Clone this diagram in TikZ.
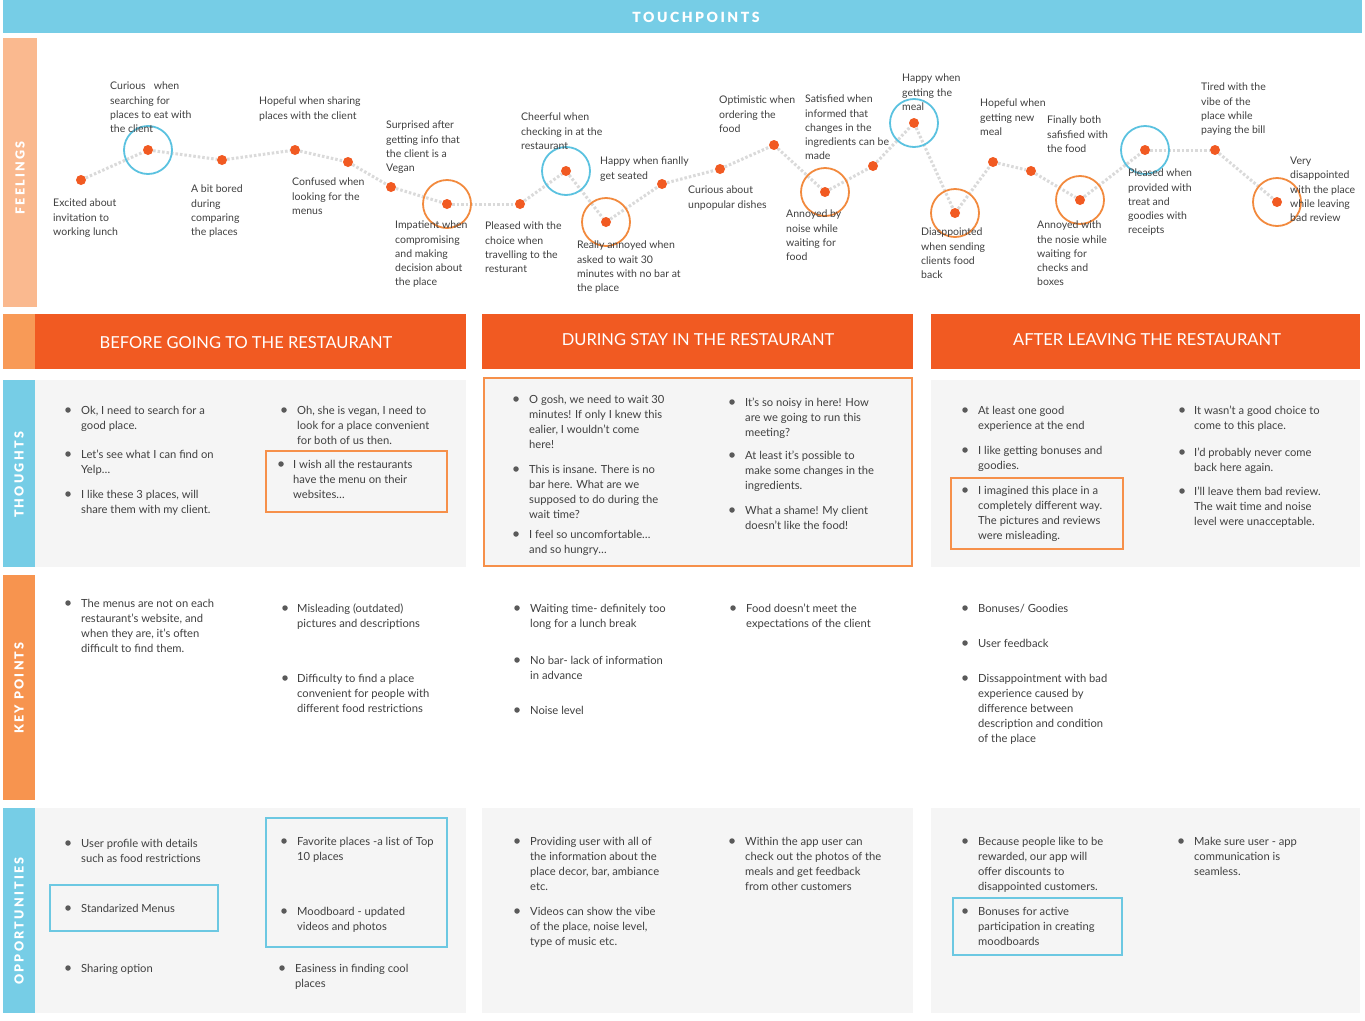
\documentclass[tikz,border=0pt]{standalone}
\usepackage{fontspec}
\setmainfont{Lato}
\newfontfamily\spacedfont[LetterSpace=18, UprightFont={Lato Black}]{Lato}

\definecolor{sky}{HTML}{76CDE6}
\definecolor{peach}{HTML}{FAB98F}
\definecolor{tang}{HTML}{F15A22}
\definecolor{tanglight}{HTML}{F89A57}
\definecolor{kporange}{HTML}{F7944F}
\definecolor{panelgray}{HTML}{F5F5F5}
\definecolor{boxorange}{HTML}{F6904A}
\definecolor{boxblue}{HTML}{6CC8E2}
\definecolor{ink}{HTML}{404040}
\definecolor{trail}{HTML}{DADADA}
\definecolor{ringblue}{HTML}{5BC2E0}
\definecolor{ringorange}{HTML}{F28A3E}
\definecolor{bulletgray}{HTML}{5A5A5A}

% bullet item: name, bullet x, text x, first-line centre y, text
\newcommand\pitem[5]{%
  \node[bul] (#1b) at (#2,#4) {};
  \node[blab] (#1) at (#3,#4-4) {#5};}
% feeling label: name, left x, first-line centre y, text
\newcommand\feel[4]{\node[flab] (#1) at (#2,#3-4) {#4};}

\begin{document}
\begin{tikzpicture}[x=1pt,y=-1pt,
  dot/.style={circle, fill=tang, inner sep=0, minimum size=10pt},
  bluering/.style={circle, draw=ringblue, line width=1.8pt, minimum size=48pt, inner sep=0},
  orangering/.style={circle, draw=ringorange, line width=1.8pt, minimum size=48pt, inner sep=0},
  trailline/.style={draw=trail, line width=3pt, dash pattern=on 2.5pt off 2pt},
  flab/.style={anchor=north west, inner sep=0, align=left, text=ink,
    font=\fontsize{10.5}{14.2}\selectfont},
  blab/.style={anchor=north west, inner sep=0, align=left, text=ink,
    font=\fontsize{11.2}{15}\selectfont},
  bul/.style={circle, fill=bulletgray, inner sep=0, minimum size=5.5pt},
  hdrtext/.style={text=white, inner sep=0, font=\fontsize{16.5}{19}\selectfont},
  sidetext/.style={text=white, inner sep=0, rotate=90, font=\spacedfont\fontsize{12.5}{14}\selectfont},
  obox/.style={draw=boxorange, line width=1.8pt},
  bbox/.style={draw=boxblue, line width=1.8pt}]
\useasboundingbox (0,0) rectangle (1365,1020);
\fill[white] (0,0) rectangle (1365,1020);

% ---- banner and row strips
\fill[sky] (3,0) rectangle (1362,33);
\node[text=white, inner sep=0, font=\spacedfont\fontsize{14}{16}\selectfont] (tp) at (696,17) {TOUCHPOINTS};

\fill[peach] (3,38) rectangle (37,307);
\fill[tanglight] (3,314) rectangle (35,369);
\fill[sky] (3,380) rectangle (35,567);
\fill[kporange] (3,575) rectangle (35,800);
\fill[sky] (3,808) rectangle (35,1013);
\node[sidetext] (sf) at (20,178) {FEELINGS};
\node[sidetext] (st) at (19,475) {THOUGHTS};
\node[sidetext] (sk) at (19,688) {KEY POINTS};
\node[sidetext] (so) at (19,921) {OPPORTUNITIES};

% ---- phase headers
\fill[tang] (35,314) rectangle (466,369);
\fill[tang] (482,314) rectangle (913,369);
\fill[tang] (931,314) rectangle (1360,369);
\node[hdrtext] (h1) at (246,343) {BEFORE GOING TO THE RESTAURANT};
\node[hdrtext] (h2) at (698,340) {DURING STAY IN THE RESTAURANT};
\node[hdrtext] (h3) at (1147,340) {AFTER LEAVING THE RESTAURANT};

% ---- panels
\fill[panelgray] (35,380) rectangle (466,567);
\fill[panelgray] (931,380) rectangle (1360,567);
\filldraw[fill=panelgray, obox] (484,378) rectangle (912,566);
\fill[panelgray] (35,808) rectangle (466,1013);
\fill[panelgray] (482,808) rectangle (913,1013);
\fill[panelgray] (931,808) rectangle (1360,1013);

% ---- feelings curve
\node[dot] (f1) at (81,180) {};
\node[dot] (f2) at (148,150) {};
\node[dot] (f3) at (222,160) {};
\node[dot] (f4) at (295,150) {};
\node[dot] (f5) at (348,162) {};
\node[dot] (f6) at (391,187) {};
\node[dot] (f7) at (447,204) {};
\node[dot] (f8) at (520,204) {};
\node[dot] (f9) at (566,171) {};
\node[dot] (f10) at (606,222) {};
\node[dot] (f11) at (662,184) {};
\node[dot] (f12) at (720,169) {};
\node[dot] (f13) at (774,145) {};
\node[dot] (f14) at (825,192) {};
\node[dot] (f15) at (873,166) {};
\node[dot] (f16) at (914,123) {};
\node[dot] (f17) at (955,213) {};
\node[dot] (f18) at (993,162) {};
\node[dot] (f19) at (1031,171) {};
\node[dot] (f20) at (1080,200) {};
\node[dot] (f21) at (1145,150) {};
\node[dot] (f22) at (1215,150) {};
\node[dot] (f23) at (1277,202) {};
\foreach \a/\b in {1/2,2/3,3/4,4/5,5/6,6/7,7/8,8/9,9/10,10/11,11/12,12/13,13/14,14/15,15/16,16/17,17/18,18/19,19/20,20/21,21/22,22/23}
  \draw[trailline] (f\a) -- (f\b);
\foreach \p in {2,9,16,21} \node[bluering] (r\p) at (f\p) {};
\foreach \p in {7,10,14,17,20,23} \node[orangering] (r\p) at (f\p) {};

\feel{l1}{53}{203}{Excited about\\invitation to\\working lunch}
\feel{l2}{110}{86}{Curious \ \ when\\searching for\\places to eat with\\the client}
\feel{l3}{191}{189}{A bit bored\\during\\comparing\\the places}
\feel{l4}{259}{101}{Hopeful when sharing\\places with the client}
\feel{l5}{292}{182}{Confused when\\looking for the\\menus}
\feel{l6}{386}{125}{Surprised after\\getting info that\\the client is a\\Vegan}
\feel{l7}{395}{225}{Impatient when\\compromising\\and making\\decision about\\the place}
\feel{l8}{485}{226}{Pleased with the\\choice when\\travelling to the\\resturant}
\feel{l9}{521}{117}{Cheerful when\\checking in at the\\restaurant}
\feel{l10}{577}{245}{Really annoyed when\\asked to wait 30\\minutes with no bar at\\the place}
\feel{l11}{600}{161}{Happy when fianlly\\get seated}
\feel{l12}{688}{190}{Curious about\\unpopular dishes}
\feel{l13}{719}{100}{Optimistic when\\ordering the\\food}
\feel{l14}{786}{214}{Annoyed by\\noise while\\waiting for\\food}
\feel{l15}{805}{99}{Satisfied when\\informed that\\changes in the\\ingredients can be\\made}
\feel{l16}{902}{78}{Happy when\\getting the\\meal}
\feel{l17}{921}{232}{Diasppointed\\when sending\\clients food\\back}
\feel{l18}{980}{103}{Hopeful when\\getting new\\meal}
\feel{l19}{1047}{120}{Finally both\\safisfied with\\the food}
\feel{l20}{1037}{225}{Annoyed with\\the nosie while\\waiting for\\checks and\\boxes}
\feel{l21}{1128}{173}{Pleased when\\provided with\\treat and\\goodies with\\receipts}
\feel{l22}{1201}{87}{Tired with the\\vibe of the\\place while\\paying the bill}
\feel{l23}{1290}{161}{Very\\disappointed\\with the place\\while leaving\\bad review}

% ---- thoughts
\pitem{ta1}{68}{81}{410}{Ok, I need to search for a\\good place.}
\pitem{ta2}{68}{81}{454}{Let’s see what I can find on\\Yelp…}
\pitem{ta3}{68}{81}{494}{I like these 3 places, will\\share them with my client.}
\pitem{ta4}{284}{297}{410}{Oh, she is vegan, I need to\\look for a place convenient\\for both of us then.}
\draw[obox] (266,451) rectangle (447,512);
\pitem{ta5}{281}{293}{464}{I wish all the restaurants\\have the menu on their\\websites…}

\pitem{tb1}{516}{529}{399}{O gosh, we need to wait 30\\minutes! If only I knew this\\ealier, I wouldn’t come\\here!}
\pitem{tb2}{516}{529}{469}{This is insane. There is no\\bar here. What are we\\supposed to do during the\\wait time?}
\pitem{tb3}{516}{529}{534}{I feel so uncomfortable…\\and so hungry…}
\pitem{tb4}{732}{745}{402}{It’s so noisy in here! How\\are we going to run this\\meeting?}
\pitem{tb5}{732}{745}{455}{At least it’s possible to\\make some changes in the\\ingredients.}
\pitem{tb6}{732}{745}{510}{What a shame! My client\\doesn’t like the food!}

\pitem{tc1}{965}{978}{410}{At least one good\\experience at the end}
\pitem{tc2}{965}{978}{450}{I like getting bonuses and\\goodies.}
\draw[obox] (951,478) rectangle (1123,549);
\pitem{tc3}{965}{978}{490}{I imagined this place in a\\completely different way.\\The pictures and reviews\\were misleading.}
\pitem{tc4}{1182}{1194}{410}{It wasn’t a good choice to\\come to this place.}
\pitem{tc5}{1182}{1194}{452}{I’d probably never come\\back here again.}
\pitem{tc6}{1182}{1194}{491}{I’ll leave them bad review.\\The wait time and noise\\level were unacceptable.}

% ---- key points
\pitem{ka1}{68}{81}{603}{The menus are not on each\\restaurant’s website, and\\when they are, it’s often\\difficult to find them.}
\pitem{ka2}{285}{297}{608}{Misleading (outdated)\\pictures and descriptions}
\pitem{ka3}{285}{297}{678}{Difficulty to find a place\\convenient for people with\\different food restrictions}
\pitem{kb1}{517}{530}{608}{Waiting time- definitely too\\long for a lunch break}
\pitem{kb2}{517}{530}{660}{No bar- lack of information\\in advance}
\pitem{kb3}{517}{530}{710}{Noise level}
\pitem{kb4}{733}{746}{608}{Food doesn’t meet the\\expectations of the client}
\pitem{kc1}{965}{978}{608}{Bonuses/ Goodies}
\pitem{kc2}{965}{978}{643}{User feedback}
\pitem{kc3}{965}{978}{678}{Dissappointment with bad\\experience caused by\\difference between\\description and condition\\of the place}

% ---- opportunities
\pitem{oa1}{68}{81}{843}{User profile with details\\such as food restrictions}
\draw[bbox] (50,885) rectangle (218,931);
\pitem{oa2}{68}{81}{908}{Standarized Menus}
\pitem{oa3}{68}{81}{968}{Sharing option}
\draw[bbox] (266,818) rectangle (447,947);
\pitem{oa4}{284}{297}{841}{Favorite places -a list of Top\\10 places}
\pitem{oa5}{284}{297}{911}{Moodboard - updated\\videos and photos}
\pitem{oa6}{282}{295}{968}{Easiness in finding cool\\places}
\pitem{ob1}{517}{530}{841}{Providing user with all of\\the information about the\\place decor, bar, ambiance\\etc.}
\pitem{ob2}{517}{530}{911}{Videos can show the vibe\\of the place, noise level,\\type of music etc.}
\pitem{ob3}{732}{745}{841}{Within the app user can\\check out the photos of the\\meals and get feedback\\from other customers}
\pitem{oc1}{965}{978}{841}{Because people like to be\\rewarded, our app will\\offer discounts to\\disappointed customers.}
\draw[bbox] (953,898) rectangle (1122,955);
\pitem{oc2}{965}{978}{911}{Bonuses for active\\participation in creating\\moodboards}
\pitem{oc3}{1181}{1194}{841}{Make sure user - app\\communication is\\seamless.}
\end{tikzpicture}
\end{document}
